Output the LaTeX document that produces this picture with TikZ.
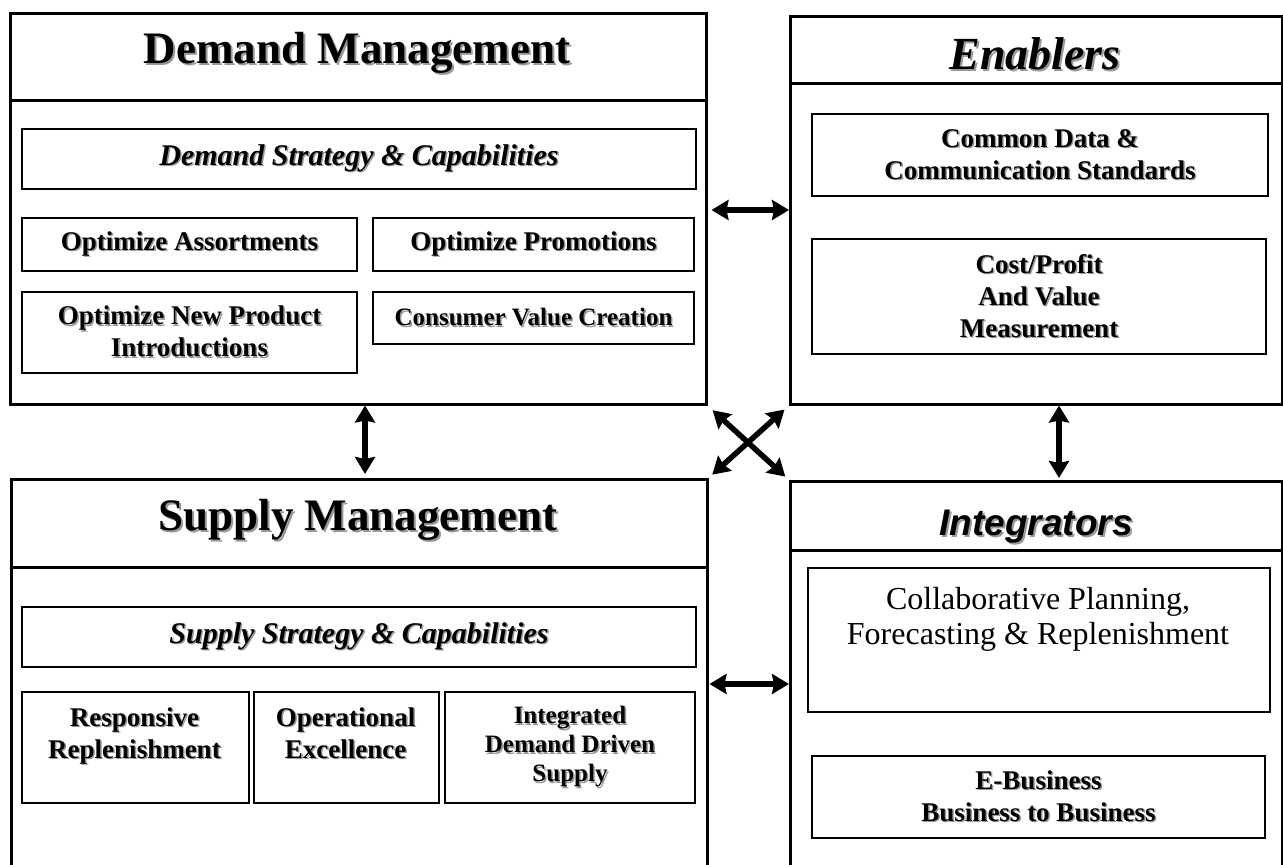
\documentclass[tikz,border=0pt]{standalone}
\usepackage{fontspec}
\setmainfont{Liberation Serif}
\newfontfamily\arialf{Liberation Sans}
\usetikzlibrary{arrows.meta}
\newcommand\shd[2][1.5pt]{\makebox[0pt][l]{\hspace*{#1}\raisebox{-#1}{\textcolor{black!40}{#2}}}#2}
\begin{document}
\begin{tikzpicture}[x=1pt,y=-1pt,
  outerbox/.style={draw, line width=2.5pt, anchor=north west, inner sep=0pt},
  ibox/.style={draw, line width=2pt, anchor=north west, inner sep=0pt, align=center},
  txt/.style={inner sep=0pt, align=center},
  bt/.style={font=\fontsize{27}{32}\selectfont\bfseries},
  bts/.style={font=\fontsize{25}{29}\selectfont\bfseries},
  bit/.style={font=\fontsize{30}{36}\selectfont\bfseries\itshape},
  ttl/.style={inner sep=0pt, anchor=base, font=\fontsize{45}{54}\selectfont\bfseries},
  dbl/.style={line width=5.5pt, {Stealth[length=17pt,width=20pt,inset=2pt]}-{Stealth[length=17pt,width=20pt,inset=2pt]}}
]
\useasboundingbox (0,0) rectangle (1283,865);
\fill[white] (0,0) rectangle (1283,865);

% ---------- Demand Management ----------
\node[outerbox, minimum width=696pt, minimum height=391pt] (Dout) at (9,12) {};
\node[outerbox, minimum width=696pt, minimum height=87pt] (Dhead) at (9,12) {};
\node[ttl] (Dttl) at (357,63) {\shd[2pt]{Demand Management}};
\node[ibox, bit, minimum width=674pt, minimum height=60pt] (DS) at (21,128) {\shd{Demand Strategy \& Capabilities}};
\node[ibox, bt, minimum width=335pt, minimum height=53pt] (OA) at (21,217) {\shd{Optimize Assortments}};
\node[ibox, bt, minimum width=321pt, minimum height=53pt] (OP) at (372,217) {\shd{Optimize Promotions}};
\node[ibox, bt, minimum width=335pt, minimum height=81pt] (ON) at (21,291) {\shd{Optimize New Product}\\\shd{Introductions}};
\node[ibox, bts, minimum width=321pt, minimum height=52pt] (CV) at (372,291) {\shd{Consumer Value Creation}};

% ---------- Enablers ----------
\node[outerbox, minimum width=492pt, minimum height=388pt] (Eout) at (789,15) {};
\node[outerbox, minimum width=492pt, minimum height=67pt] (Ehead) at (789,15) {};
\node[ttl, font=\fontsize{46}{54}\selectfont\bfseries\itshape] (Ettl) at (1035,69) {\shd[2pt]{Enablers}};
\node[ibox, bt, minimum width=456pt, minimum height=82pt] (CD) at (811,113) {\shd{Common Data \&}\\\shd{Communication Standards}};
\node[ibox, bt, minimum width=454pt, minimum height=115pt] (CP) at (811,238) {\shd{Cost/Profit}\\\shd{And Value}\\\shd{Measurement}};

% ---------- Supply Management ----------
\node[outerbox, minimum width=696pt, minimum height=390pt] (Sout) at (10,478) {};
\node[outerbox, minimum width=696pt, minimum height=88pt] (Shead) at (10,478) {};
\node[ttl] (Sttl) at (358,530) {\shd[2pt]{Supply Management}};
\node[ibox, bit, minimum width=674pt, minimum height=60pt] (SS) at (21,606) {\shd{Supply Strategy \& Capabilities}};
\node[ibox, minimum width=227pt, minimum height=111pt] (RR) at (21,691) {};
\node[txt, bt] (RRt) at (134.5,736.5) {\shd{Responsive}\\\shd{Replenishment}};
\node[ibox, minimum width=185pt, minimum height=111pt] (OE) at (253,691) {};
\node[txt, bt] (OEt) at (345.5,733.5) {\shd{Operational}\\\shd{Excellence}};
\node[ibox, bts, minimum width=250pt, minimum height=111pt] (ID) at (444,691) {\shd{Integrated}\\\shd{Demand Driven}\\\shd{Supply}};

% ---------- Integrators ----------
\node[outerbox, minimum width=492pt, minimum height=388pt] (Iout) at (789,480) {};
\node[outerbox, minimum width=492pt, minimum height=69pt] (Ihead) at (789,480) {};
\node[ttl, font=\fontsize{37}{44}\selectfont\arialf\bfseries\itshape] (Ittl) at (1036,535) {\shd[2pt]{Integrators}};
\node[ibox, minimum width=462pt, minimum height=144pt] (CPFR) at (807,567) {};
\node[txt, font=\fontsize{32}{35}\selectfont] (CPFRt) at (1038,619) {Collaborative Planning,\\Forecasting \& Replenishment};
\node[ibox, bt, minimum width=453pt, minimum height=82pt] (EB) at (811,755) {\shd{E-Business}\\\shd{Business to Business}};

% ---------- connectors ----------
\coordinate (yTop) at (0,210);
\coordinate (yBot) at (0,684);
\coordinate (xL) at (365,0);
\coordinate (xR) at (1059,0);
\draw[dbl, shorten <=4pt] (Dout.east |- yTop) -- (Eout.west |- yTop);
\draw[dbl, shorten <=1pt] (Sout.east |- yBot) -- (Iout.west |- yBot);
\draw[dbl, shorten >=4pt] (Dout.south -| xL) -- (Sout.north -| xL);
\draw[dbl, shorten >=2pt] (Eout.south -| xR) -- (Iout.north -| xR);
\draw[dbl, shorten <=7pt, shorten >=5pt] (Dout.south east) -- (Iout.north west);
\draw[dbl, shorten <=6pt, shorten >=5pt] (Eout.south west) -- (Sout.north east);
\end{tikzpicture}
\end{document}
